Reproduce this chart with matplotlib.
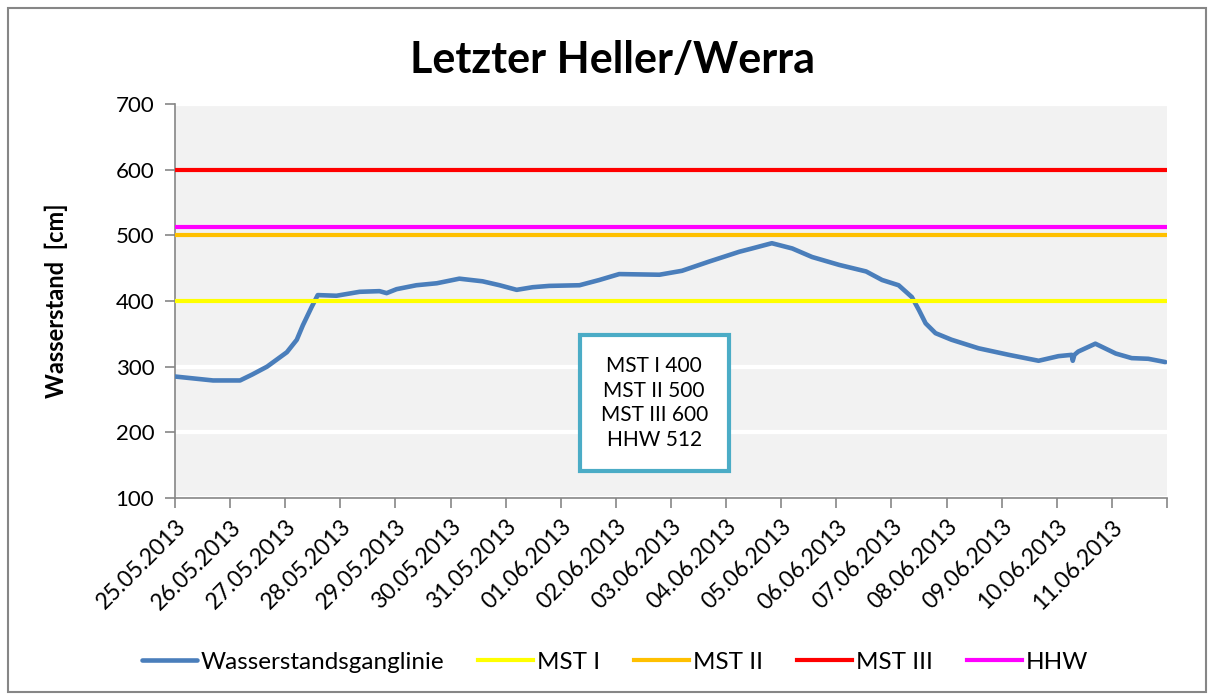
import matplotlib
matplotlib.use("Agg")
import matplotlib.pyplot as plt
import pandas as pd
import numpy as np
from matplotlib.patches import Rectangle

plt.rcParams['font.family'] = ['Lato', 'DejaVu Sans']

title = "Letzter Heller/Werra"
ylabel = "Wasserstand  [cm]"
start = pd.Timestamp("2013-05-25")
end = pd.Timestamp("2013-06-12")

# water level: day offset from 25.05.2013 00:00, value in cm
day_offset = [0.00, 0.69, 1.18, 1.40, 1.67, 2.03, 2.21, 2.32, 2.48, 2.59, 2.93, 3.35, 3.71, 3.84,
              4.02, 4.38, 4.75, 5.16, 5.58, 5.89, 6.20, 6.49, 6.79, 7.34, 7.70, 8.06, 8.79,
              9.20, 9.69, 10.24, 10.47, 10.83, 11.20, 11.56, 12.05, 12.54, 12.83, 13.13,
              13.37, 13.50, 13.62, 13.80, 14.09, 14.58, 15.13, 15.67, 16.03, 16.27, 16.29,
              16.32, 16.39, 16.70, 17.07, 17.36, 17.66, 17.97]
level = [285, 279, 279, 288, 300, 322, 341, 363, 391, 409, 408, 414, 415, 412,
         418, 424, 427, 434, 430, 424, 417, 421, 423, 424, 432, 441, 440,
         446, 460, 475, 480, 488, 480, 467, 455, 445, 432, 424,
         406, 386, 366, 351, 341, 328, 318, 309, 316, 318, 309,
         318, 323, 335, 320, 313, 312, 307]

threshold_names = ["MST I", "MST II", "MST III", "HHW"]
threshold_values = [400, 500, 600, 512]
threshold_colors = ["#ffff00", "#ffc000", "#ff0000", "#ff00ff"]
series_name = "Wasserstandsganglinie"
series_color = "#4a7ebb"
box_text = "MST I 400\nMST II 500\nMST III 600\nHHW 512"

times = [start + pd.Timedelta(days=d) for d in day_offset]

fig = plt.figure(figsize=(12.14, 7.0), dpi=100)
fig.patches.append(Rectangle((8/1214, 8/700), 1 - 16/1214, 1 - 16/700, transform=fig.transFigure,
                             fill=False, edgecolor="#868686", linewidth=1.5))
ax = fig.add_axes([175/1214, 202/700, 992/1214, 394/700])
ax.set_facecolor("#f2f2f2")

ax.plot(times, level, color=series_color, linewidth=3.3, label=series_name, zorder=3,
        solid_capstyle='round')
for n, v, c in zip(threshold_names, threshold_values, threshold_colors):
    ax.plot([start, end], [v, v], color=c, linewidth=3.0, label=n, zorder=4)

ax.set_xlim(start, end)
ax.set_ylim(100, 700)
ax.set_yticks(np.arange(100, 701, 100))
ax.yaxis.grid(True, color="white", linewidth=3)
ax.set_axisbelow(True)

days = pd.date_range(start, end, freq="D")
ax.set_xticks(days)
ax.set_xticklabels([d.strftime("%d.%m.%Y") if d < end else "" for d in days],
                   rotation=45, ha="right", rotation_mode="anchor", fontsize=16.5)
ax.tick_params(axis="x", length=7, width=1.2, color="#868686", pad=6)
ax.tick_params(axis="y", length=7, width=1.2, color="#868686", labelsize=16, pad=8)

for s in ["top", "right"]:
    ax.spines[s].set_visible(False)
for s in ["left", "bottom"]:
    ax.spines[s].set_color("#868686")
    ax.spines[s].set_linewidth(1.2)

ax.set_ylabel(ylabel, fontsize=17, fontweight="bold")
ax.yaxis.set_label_coords(-0.108, 0.5)
fig.text(613/1214, 1 - 60/700, title, ha="center", va="center", fontsize=31, fontweight="bold")

ax.text(0.483, 0.241, box_text, transform=ax.transAxes, ha="center", va="center",
        fontsize=15, linespacing=1.3, zorder=6,
        bbox=dict(boxstyle="square,pad=1.0", facecolor="white", edgecolor="#4bacc6", linewidth=3))

fig.legend(loc="center", bbox_to_anchor=(615/1214, 1 - 662/700), ncol=5, frameon=False,
           fontsize=17.5, handlelength=2.26, columnspacing=1.4, handletextpad=0.16)

fig.savefig("out.png", dpi=100)
